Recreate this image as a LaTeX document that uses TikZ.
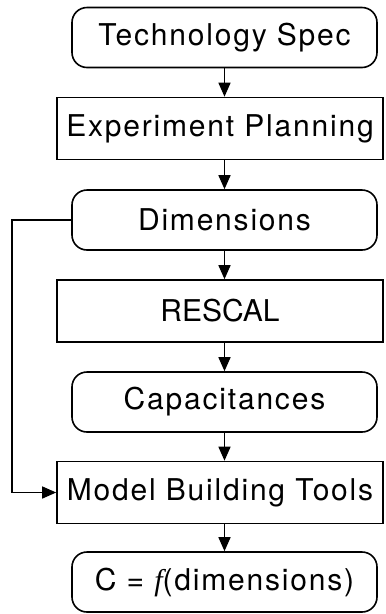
\documentclass[tikz,border=0pt]{standalone}
\usepackage{fontspec}
\setmainfont[LetterSpace=6]{TeX Gyre Heros}
\newfontfamily\tightfont{TeX Gyre Heros}
\newfontfamily\fitalic{Liberation Serif}
\usetikzlibrary{arrows.meta}
\begin{document}
\begin{tikzpicture}[x=1pt,y=-1pt,
  font=\fontsize{30}{33}\selectfont,
  roundbox/.style={draw, line width=1.6pt, rounded corners=15pt, inner sep=0pt,
    minimum width=305pt, minimum height=60pt},
  rectbox/.style={draw, line width=1.6pt, inner sep=0pt,
    minimum width=326pt, minimum height=62pt},
  flow/.style={line width=1.4pt, -{Triangle[length=14pt,width=12pt]}}]
  \useasboundingbox (0,0) rectangle (386,614);
  % process chain
  \node[roundbox] (spec) at (224.5,37.5) {Technology Spec};
  \node[rectbox]  (plan) at (220,128.5) {Experiment Planning};
  \node[roundbox] (dims) at (224.5,220) {Dimensions};
  \node[rectbox]  (resc) at (220,311)   {\tightfont RESCAL};
  \node[roundbox] (caps) at (224.5,402) {Capacitances};
  \node[rectbox]  (tool) at (220,492.5) {Model Building Tools};
  \node[roundbox] (func) at (224.5,582) {C = {\fitalic\itshape f}(dimensions)};
  % vertical connectors
  \draw[flow] (spec.south) -- (spec.south |- plan.north);
  \draw[flow] (spec.south |- plan.south) -- (spec.south |- dims.north);
  \draw[flow] (dims.south) -- (dims.south |- resc.north);
  \draw[flow] (dims.south |- resc.south) -- (dims.south |- caps.north);
  \draw[flow] (caps.south) -- (caps.south |- tool.north);
  \draw[flow] (caps.south |- tool.south) -- (caps.south |- func.north);
  % bypass from dimensions to the model tools
  \coordinate (bend) at (12,0);
  \draw[flow] (dims.west) -- (dims.west -| bend) -- (tool.west -| bend) -- (tool.west);
\end{tikzpicture}
\end{document}
